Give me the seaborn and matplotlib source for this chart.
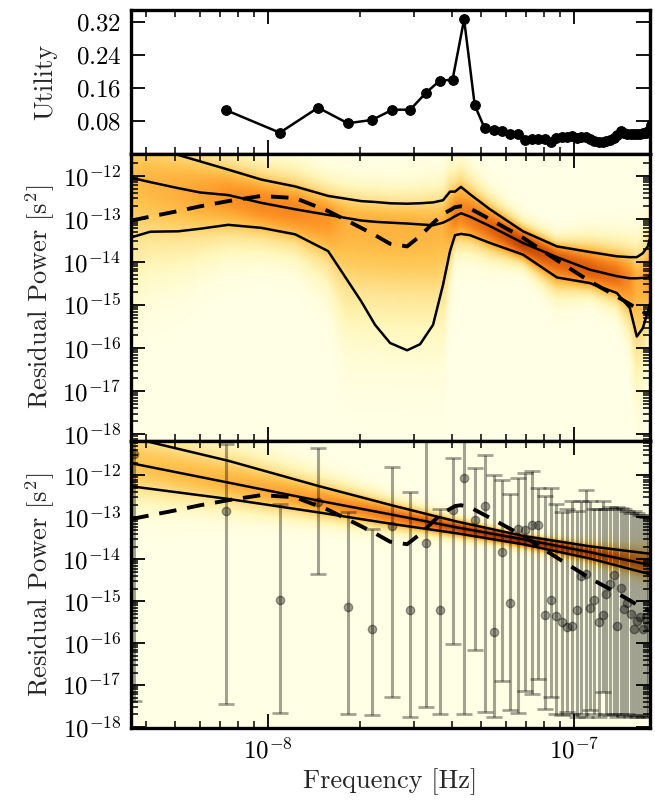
import numpy as np
import matplotlib
matplotlib.use("Agg")
import matplotlib.pyplot as plt
from matplotlib.colors import PowerNorm
from matplotlib.ticker import LogLocator, NullFormatter
import seaborn as sns

sns.set_theme(style="ticks")
plt.rcParams.update({
    "font.family": ["cmr10", "DejaVu Serif"],
    "mathtext.fontset": "cm",
    "axes.formatter.use_mathtext": True,
    "font.size": 19,
    "axes.labelsize": 19,
    "xtick.labelsize": 18,
    "ytick.labelsize": 18,
    "axes.linewidth": 2.4,
    "axes.edgecolor": "black",
    "xtick.direction": "in",
    "ytick.direction": "in",
    "xtick.major.size": 10,
    "ytick.major.size": 10,
    "xtick.minor.size": 5,
    "ytick.minor.size": 5,
    "xtick.major.width": 1.3,
    "ytick.major.width": 1.3,
    "xtick.minor.width": 1.1,
    "ytick.minor.width": 1.1,
    "xtick.major.pad": 7,
    "ytick.major.pad": 7,
    "xtick.color": "black",
    "ytick.color": "black",
})

# ---------- données ----------
T_span = 1.0 / 3.657e-9          # durée des données [s]
xlim = (3.58e-9, 1.774e-7)
decades = [1e-18, 1e-17, 1e-16, 1e-15, 1e-14, 1e-13, 1e-12]

# panneau du haut : utilité par harmonique (k = 2 .. 49)
util_k = np.arange(2, 50)
utility = [0.106, 0.051, 0.112, 0.074, 0.082, 0.107, 0.107, 0.148, 0.178, 0.180,
           0.327, 0.118, 0.062, 0.058, 0.054, 0.048, 0.047, 0.032, 0.035, 0.035,
           0.035, 0.029, 0.038, 0.041, 0.041, 0.043, 0.038, 0.041, 0.040, 0.035,
           0.030, 0.029, 0.029, 0.030, 0.033, 0.037, 0.046, 0.056, 0.050, 0.047,
           0.047, 0.047, 0.047, 0.048, 0.051, 0.051, 0.056, 0.070]

# panneau du milieu : spectre libre (log10 des quantiles)
free_freqs = [3.59e-9, 4.14e-9, 5.11e-9, 6.03e-9, 7.44e-9, 9.54e-9, 1.231e-8, 1.578e-8,
              2.022e-8, 2.246e-8, 2.514e-8, 2.858e-8, 3.150e-8, 3.474e-8, 3.745e-8,
              3.947e-8, 4.098e-8, 4.287e-8, 4.586e-8, 5.330e-8, 6.833e-8, 8.820e-8,
              1.130e-7, 1.384e-7, 1.527e-7, 1.609e-7, 1.683e-7, 1.748e-7, 1.788e-7]
free_hi = [-11.20, -11.33, -11.52, -11.67, -11.86, -12.09, -12.25, -12.47, -12.59, -12.61,
           -12.64, -12.65, -12.64, -12.62, -12.57, -12.37, -12.37, -12.26, -12.43, -12.78,
           -13.29, -13.64, -13.77, -13.87, -13.89, -13.89, -13.80, -13.64, -13.38]
free_med = [-12.05, -12.15, -12.29, -12.39, -12.45, -12.63, -12.78, -12.91, -13.04, -13.07,
            -13.09, -13.11, -13.13, -13.15, -13.09, -13.01, -12.94, -12.87, -12.95, -13.17,
            -13.56, -13.89, -14.18, -14.33, -14.38, -14.38, -14.37, -14.36, -14.31]
free_lo = [-13.43, -13.30, -13.29, -13.23, -13.14, -13.21, -13.36, -13.75, -14.91, -15.46,
           -15.88, -16.05, -15.91, -15.46, -14.53, -13.75, -13.38, -13.35, -13.38, -13.56,
           -13.83, -14.36, -14.49, -14.72, -15.07, -15.73, -15.54, -15.15, -14.91]
true_psd = [-13.04, -12.95, -12.82, -12.71, -12.59, -12.47, -12.52, -12.82, -13.21, -13.38,
            -13.58, -13.64, -13.40, -13.10, -12.89, -12.80, -12.73, -12.71, -12.76, -13.01,
            -13.44, -13.96, -14.45, -14.80, -14.98, -15.08, -15.15, -15.22, -15.24]

# panneau du bas : loi de puissance (log10 des quantiles)
pl_freqs = [3.59e-9, 7.44e-9, 1.464e-8, 2.572e-8, 4.158e-8, 6.833e-8, 1.130e-7, 1.788e-7]
pl_hi = [-11.10, -11.65, -12.25, -12.72, -13.10, -13.44, -13.69, -13.87]
pl_med = [-11.71, -12.17, -12.60, -12.94, -13.24, -13.52, -13.83, -14.14]
pl_lo = [-12.26, -12.56, -12.88, -13.16, -13.38, -13.64, -13.98, -14.36]

# périodogramme (k = 1 .. 48) : valeur, borne haute, borne basse (log10)
pg_k = np.arange(1, 49)
pg_val = [-11.48, -12.84, -14.98, -12.63, -15.14, -15.65, -13.20, -15.20, -13.62, -15.22,
          -12.83, -12.05, -13.06, -12.72, -15.74, -13.83, -15.05, -13.28, -13.30, -13.18,
          -13.18, -15.33, -14.96, -15.36, -15.50, -15.62, -15.58, -15.20, -14.39, -14.35,
          -15.16, -14.97, -15.50, -15.32, -14.83, -14.59, -14.38, -15.60, -14.68, -15.19,
          -15.05, -15.30, -15.67, -15.48, -15.38, -15.67, -15.40, -15.60]
pg_hi = [-10.50, -11.24, -12.68, -11.35, -12.88, -13.28, -11.79, -12.39, -10.80, -12.79,
         -11.59, -10.80, -11.83, -11.51, -12.00, -12.10, -12.45, -12.06, -11.95, -11.89,
         -12.29, -12.48, -12.29, -12.68, -12.88, -12.80, -12.60, -12.85, -12.60, -12.35,
         -12.60, -12.80, -12.80, -12.62, -12.80, -12.75, -12.80, -12.75, -12.78, -12.80,
         -12.85, -12.90, -12.85, -12.90, -12.95, -12.95, -13.00, -13.00]
pg_lo = [-17.39, -17.46, -17.67, -14.35, -17.68, -17.71, -17.29, -17.76, -17.52, -17.70,
         -16.03, -17.70, -16.17, -17.65, -17.75, -16.89, -17.59, -17.67, -17.13, -17.20,
         -16.85, -17.56, -17.28, -17.70, -17.72, -17.65, -17.70, -17.75, -17.68, -17.75,
         -17.60, -17.70, -17.75, -17.16, -17.70, -17.72, -17.68, -17.75, -17.70, -17.74,
         -17.70, -17.76, -17.72, -17.75, -17.72, -17.76, -17.74, -17.75]


# ---------- densité de la postérieure (à partir des quantiles) ----------
def densite(ax, f_nodes, lo, med, hi, vmax):
    lf = np.linspace(np.log10(xlim[0]), np.log10(xlim[1]), 500)
    lp = np.linspace(-19.5, -10.5, 900)
    lfn = np.log10(f_nodes)
    m = np.interp(lf, lfn, med)
    # les courbes sont prises comme quantiles 10 % / 90 %
    su = np.clip((np.interp(lf, lfn, hi) - m) / 1.28, 0.03, 1.1)
    sl = np.clip((m - np.interp(lf, lfn, lo)) / 1.28, 0.03, 1.1)
    d = lp[:, None] - m[None, :]
    s = np.where(d > 0, su[None, :], sl[None, :])
    z = np.exp(-0.5 * (d / s) ** 2) * 2 / (np.sqrt(2 * np.pi) * (su + sl))[None, :]
    ax.pcolormesh(10 ** lf, 10 ** lp, z, cmap="YlOrBr", norm=PowerNorm(0.5, 0, vmax),
                  shading="gouraud", zorder=0, rasterized=True)


fig, axes = plt.subplots(3, 1, figsize=(6.55, 8), sharex=True,
                         gridspec_kw=dict(height_ratios=[1, 2, 2], hspace=0))
fig.subplots_adjust(left=0.2, right=0.992, top=0.9875, bottom=0.09)
ax0, ax1, ax2 = axes

for ax in axes:
    ax.set_xscale("log")
ax1.set_yscale("log")
ax2.set_yscale("log")

# 1. Utilité
sns.lineplot(x=util_k / T_span, y=utility, ax=ax0, color="black", lw=1.8,
             marker="o", markersize=7, markeredgecolor="black")
ax0.set_ylim(0, 0.35)
ax0.set_yticks([0.08, 0.16, 0.24, 0.32])
ax0.set_ylabel("Utility")

# 2. Spectre libre
densite(ax1, free_freqs, free_lo, free_med, free_hi, vmax=3.0)
for q in (free_hi, free_med, free_lo):
    ax1.plot(free_freqs, 10 ** np.array(q), color="black", lw=1.8, zorder=3)
ax1.plot(free_freqs, 10 ** np.array(true_psd), color="black", lw=2.8,
         dashes=(4.5, 2.8), zorder=4)
ax1.set_ylabel("Residual Power [s$^2$]")

# 3. Loi de puissance + périodogramme
densite(ax2, pl_freqs, pl_lo, pl_med, pl_hi, vmax=6.4)
pv = 10 ** np.array(pg_val)
ax2.errorbar(pg_k / T_span, pv,
             yerr=[pv - 10 ** np.array(pg_lo), 10 ** np.array(pg_hi) - pv],
             fmt="o", color="black", alpha=0.36, ms=6, elinewidth=2.2,
             capsize=6, capthick=2, zorder=2)
for q in (pl_hi, pl_med, pl_lo):
    ax2.plot(pl_freqs, 10 ** np.array(q), color="black", lw=1.8, zorder=3)
ax2.plot(free_freqs, 10 ** np.array(true_psd), color="black", lw=2.8,
         dashes=(4.5, 2.8), zorder=4)
ax2.set_ylabel("Residual Power [s$^2$]")
ax2.set_xlabel("Frequency [Hz]", labelpad=3)

for ax in (ax1, ax2):
    ax.set_yticks(decades)
    ax.yaxis.set_minor_locator(LogLocator(base=10, subs=np.arange(2, 10), numticks=20))
    ax.yaxis.set_minor_formatter(NullFormatter())
ax1.set_ylim(7.1e-19, 3.25e-12)
ax2.set_ylim(9.5e-19, 6.7e-12)

ax2.set_xlim(*xlim)
ax2.set_xticks([1e-8, 1e-7])
ax2.set_xlim(*xlim)
for ax in axes:
    ax.tick_params(which="both", direction="in", top=True, right=True)
    ax.set_facecolor("white")
for ax in (ax0, ax1):
    ax.tick_params(labelbottom=False)
fig.align_ylabels(axes)

plt.savefig("out.png", dpi=100)
plt.close()
